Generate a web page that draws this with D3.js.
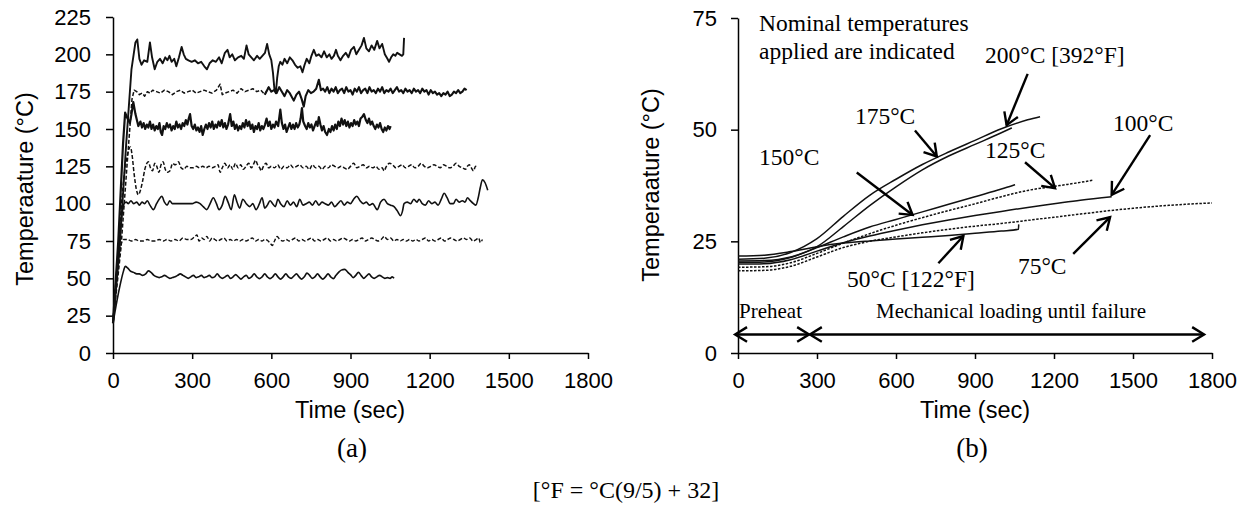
<!DOCTYPE html>
<html lang="en">
<head>
<meta charset="UTF-8">
<title>Temperature histories</title>
<style>
  body { margin: 0; background: #fff; }
  svg { display: block; }
  .tick text { font-family: "Liberation Sans", Arial, sans-serif; font-size: 22px; fill: #000; }
  .axis path, .axis line { stroke: #000; stroke-width: 1.5px; }
</style>
</head>
<body>
<div id="chart"></div>
<script src="https://d3js.org/d3.v7.min.js"></script>
<script>
const width = 1251, height = 509;

const timeTicks = [0, 300, 600, 900, 1200, 1500, 1800];
const furnaceTicks = [0, 25, 50, 75, 100, 125, 150, 175, 200, 225];
const specimenTicks = [0, 25, 50, 75];

// (a) measured temperature histories, [time s, temp C]
const furnace200 = [[0,20],[25,70],[50,140],[70,190],[85,208],[92,210],[100,197],[108,193],[118,196],[130,195],[140,208],[148,198],[158,190],[168,195],[178,197],[188,194],[198,198],[206,196],[214,199],[222,195],[232,197],[240,192],[250,198],[260,205],[268,200],[276,197],[286,196],[298,195],[310,196],[322,194],[334,195],[346,192],[356,190],[366,194],[378,196],[390,195],[402,198],[412,194],[424,201],[434,203],[442,198],[452,200],[462,196],[474,198],[486,199],[496,197],[506,206],[514,200],[524,198],[534,196],[546,199],[556,197],[566,199],[576,201],[584,207],[592,200],[600,196],[606,188],[612,176],[617,174],[622,184],[628,192],[634,195],[642,193],[650,197],[660,194],[670,198],[680,196],[690,193],[700,191],[710,192],[718,188],[726,193],[734,197],[744,194],[752,199],[761,203],[770,199],[780,200],[790,198],[800,202],[810,198],[820,200],[828,197],[837,199],[845,203],[852,199],[862,196],[872,199],[882,201],[892,198],[902,203],[913,205],[922,200],[932,203],[942,206],[951,211],[960,204],[970,202],[980,206],[990,203],[1001,209],[1010,204],[1020,207],[1030,200],[1040,197],[1046,195],[1054,198],[1062,200],[1070,199],[1077,201],[1086,200],[1095,199],[1100,200],[1103,211]];
const furnace175 = [[0,20],[30,70],[55,130],[72,170],[80,176],[90,175],[100,173],[110,174],[120,172],[130,175],[140,174],[150,176],[165,175],[180,174],[195,176],[210,175],[225,173],[240,175],[255,176],[270,174],[285,175],[300,176],[315,174],[330,175],[345,176],[360,175],[375,174],[392,176],[406,180],[414,173],[424,174],[440,175],[455,176],[470,174],[485,177],[500,175],[515,176],[530,177],[545,175],[560,176],[575,173],[590,178],[600,175],[610,176],[620,174],[630,178],[640,175],[650,172],[660,176],[670,174],[685,169],[695,173],[705,175],[715,170],[723,165],[730,172],[740,176],[750,174],[760,175],[770,177],[780,183],[788,176],[796,177],[804,175],[812,178],[820,174],[828,177],[836,175],[844,178],[852,174],[860,176],[868,177],[876,174],[884,178],[892,175],[900,176],[908,173],[916,177],[924,175],[932,178],[940,174],[948,176],[956,177],[964,174],[972,178],[980,175],[988,176],[996,174],[1004,177],[1012,175],[1020,178],[1028,174],[1036,176],[1044,175],[1052,177],[1060,174],[1068,176],[1076,178],[1084,175],[1092,176],[1100,174],[1108,177],[1116,175],[1124,176],[1132,174],[1140,177],[1148,175],[1156,176],[1164,174],[1172,177],[1180,175],[1188,176],[1196,173],[1204,176],[1212,174],[1220,175],[1228,173],[1236,174],[1244,172],[1252,174],[1260,173],[1268,175],[1276,172],[1284,173],[1292,175],[1300,174],[1308,176],[1316,174],[1324,175],[1332,177],[1340,176]];
const furnace150 = [[0,20],[20,75],[38,140],[46,161],[55,157],[64,154],[70,160],[77,168],[85,160],[96,152],[104,155],[110,151],[116,154],[122,150],[128,153],[134,151],[140,155],[146,150],[152,153],[158,149],[164,152],[170,150],[176,154],[181,148],[186,146],[192,152],[198,150],[204,154],[210,151],[216,153],[222,149],[228,152],[234,150],[240,155],[246,151],[252,153],[258,150],[264,154],[270,152],[276,156],[282,153],[287,157],[292,160],[298,152],[304,150],[310,153],[316,149],[322,151],[328,148],[334,152],[340,146],[346,150],[352,153],[358,150],[364,154],[370,151],[376,155],[382,150],[388,153],[394,151],[400,155],[406,152],[412,156],[418,151],[424,154],[430,150],[436,153],[444,160],[450,152],[456,155],[462,150],[468,153],[474,149],[480,152],[486,150],[492,154],[498,151],[504,156],[510,152],[516,155],[522,150],[528,153],[534,148],[540,152],[546,150],[552,154],[558,149],[564,152],[570,150],[576,153],[582,157],[588,152],[594,155],[600,150],[606,153],[612,151],[618,155],[626,152],[634,163],[640,154],[646,150],[652,153],[658,148],[664,151],[670,154],[676,150],[682,153],[688,150],[694,154],[700,151],[706,153],[711,157],[716,164],[721,155],[728,152],[734,150],[740,154],[746,151],[752,153],[758,149],[764,152],[770,155],[775,152],[780,158],[786,153],[792,149],[798,152],[804,148],[811,146],[818,150],[824,148],[830,152],[836,149],[842,153],[848,150],[854,155],[860,152],[866,157],[872,153],[878,156],[884,152],[890,155],[896,151],[902,154],[908,152],[914,156],[920,153],[926,155],[932,152],[938,157],[944,158],[951,160],[958,156],[964,154],[970,157],[976,153],[982,155],[988,152],[994,150],[1000,153],[1006,151],[1012,154],[1018,150],[1024,148],[1030,151],[1036,149],[1042,152],[1048,150],[1052,152]];
const furnace125 = [[0,20],[20,70],[40,115],[55,133],[66,138],[72,133],[80,120],[88,110],[96,106],[104,109],[112,115],[122,124],[134,128],[142,124],[150,122],[158,127],[166,125],[174,121],[182,126],[190,128],[198,123],[206,121],[216,122],[226,127],[236,126],[248,128],[258,124],[268,123],[280,125],[292,124],[304,124],[316,125],[328,124],[340,125],[352,124],[364,125],[376,124],[388,125],[398,126],[406,121],[414,124],[424,127],[434,124],[444,126],[454,123],[464,127],[474,124],[484,126],[494,123],[504,125],[514,127],[524,124],[534,127],[540,129],[548,126],[556,124],[562,122],[570,125],[580,127],[590,124],[600,125],[612,124],[624,126],[636,123],[648,125],[660,124],[672,126],[684,124],[696,125],[708,126],[720,124],[732,125],[744,123],[756,126],[768,124],[780,125],[792,123],[804,125],[816,124],[828,126],[840,125],[852,124],[864,125],[876,124],[888,123],[900,125],[912,127],[924,124],[936,125],[948,126],[960,124],[972,125],[984,124],[996,125],[1008,123],[1020,124],[1027,122],[1036,125],[1048,127],[1060,126],[1072,124],[1084,125],[1096,126],[1108,124],[1120,125],[1132,126],[1144,124],[1156,125],[1168,127],[1180,125],[1192,124],[1204,125],[1216,126],[1228,125],[1240,124],[1252,126],[1264,125],[1276,124],[1288,125],[1300,127],[1312,125],[1324,124],[1336,123],[1343,125],[1350,126],[1358,124],[1366,122],[1374,125],[1380,124]];
const furnace100 = [[0,20],[18,60],[32,90],[42,100],[50,101],[58,100],[68,102],[78,100],[90,101],[100,99],[110,101],[120,100],[130,102],[140,99],[153,96],[165,100],[175,103],[185,105],[195,101],[205,99],[215,102],[225,100],[240,100],[260,100],[280,100],[300,100],[315,101],[330,100],[342,98],[355,96],[368,100],[380,104],[392,100],[402,96],[414,99],[425,105],[436,101],[448,96],[460,106],[470,101],[480,97],[492,103],[505,100],[518,98],[530,100],[542,96],[555,100],[565,104],[575,97],[585,99],[595,102],[605,100],[615,98],[625,103],[635,100],[648,98],[660,102],[672,99],[684,101],[696,98],[708,103],[720,99],[732,100],[744,101],[756,99],[768,102],[780,99],[792,101],[804,100],[816,99],[828,101],[840,98],[852,100],[864,102],[876,99],[888,101],[900,100],[912,103],[924,105],[936,102],[948,100],[960,101],[972,99],[984,100],[996,97],[1001,96],[1014,101],[1027,103],[1040,100],[1052,99],[1065,98],[1078,95],[1090,92],[1097,95],[1103,100],[1115,101],[1128,100],[1140,103],[1152,101],[1160,103],[1172,100],[1184,99],[1196,102],[1208,100],[1220,101],[1232,99],[1244,103],[1255,107],[1266,104],[1278,100],[1290,100],[1300,103],[1312,101],[1324,102],[1334,101],[1343,104],[1354,102],[1366,100],[1375,99],[1384,104],[1392,111],[1400,116],[1410,114],[1420,109]];
const furnace75 = [[0,20],[15,50],[30,72],[40,76],[55,76],[70,75],[85,76],[100,75],[115,75],[130,76],[145,75],[160,75],[175,76],[190,75],[205,76],[220,75],[235,76],[250,75],[265,77],[280,76],[295,76],[310,78],[318,79],[326,75],[336,77],[346,76],[356,78],[366,75],[376,77],[386,76],[396,75],[408,76],[420,77],[432,75],[444,76],[456,75],[468,76],[480,75],[492,76],[504,75],[516,76],[528,77],[540,75],[552,76],[564,75],[576,76],[588,75],[598,73],[604,72],[612,75],[622,78],[632,76],[644,75],[656,76],[668,75],[680,76],[692,77],[704,75],[716,76],[728,75],[740,76],[752,77],[764,75],[776,76],[788,75],[800,76],[812,77],[824,75],[836,76],[848,75],[860,76],[872,77],[884,76],[896,75],[908,76],[920,75],[932,76],[944,77],[956,75],[968,76],[980,77],[992,76],[1004,75],[1016,76],[1028,78],[1040,76],[1052,77],[1064,75],[1076,76],[1088,75],[1100,76],[1112,75],[1124,76],[1136,75],[1148,76],[1160,75],[1172,76],[1184,77],[1196,75],[1208,76],[1220,75],[1232,76],[1244,77],[1256,75],[1268,76],[1280,77],[1292,76],[1304,75],[1316,76],[1328,77],[1340,76],[1352,77],[1364,75],[1376,76],[1386,77],[1392,74],[1400,76]];
const furnace50 = [[0,20],[15,35],[30,48],[40,55],[46,58],[55,57],[65,55],[78,54],[90,53],[100,53],[112,52],[124,53],[134,55],[144,54],[155,52],[165,51],[175,50.5],[185,51],[195,52],[205,51],[215,50],[225,50.5],[235,51],[245,52],[255,53],[265,52],[275,51],[285,50],[295,51],[305,52],[315,50.5],[325,51],[335,52],[345,50.5],[355,51],[365,52],[375,50.5],[385,51],[395,53],[405,51],[415,50],[425,51],[435,52],[445,50],[455,51],[465,52.5],[475,51],[485,49.5],[495,51],[505,52],[515,50],[525,51],[535,53],[545,51],[555,49.8],[565,51],[575,53],[585,51],[595,49.8],[605,51],[615,53],[625,51],[635,49.5],[645,51],[655,53],[665,51],[675,50],[685,51.5],[695,53],[705,51],[715,49.5],[725,51],[735,53.5],[745,52],[755,50],[765,51],[775,53],[785,51],[795,49.5],[805,51],[815,53],[825,51],[835,49.8],[845,52],[855,54],[865,55.5],[878,56],[890,54],[900,52.5],[910,50.5],[920,52],[930,54],[940,52],[950,50],[960,51.5],[970,53],[980,51],[990,50],[1000,51],[1010,52],[1020,51],[1030,50],[1040,50.5],[1050,50],[1058,51],[1065,50]];

// (b) specimen temperature histories, [time s, temp C]
const specimen200 = [[0,21.0],[100,21.2],[200,22.5],[300,25.6],[400,30.6],[500,35.3],[600,38.9],[700,42.2],[800,45.0],[900,47.6],[1000,50.2],[1100,52.2],[1147,52.9]];
const specimen175 = [[0,20.6],[100,20.7],[200,21.5],[300,23.8],[400,28.3],[500,33.0],[600,37.2],[700,41.0],[800,44.1],[900,46.7],[1000,49.3],[1040,50.4]];
const specimen150 = [[0,20.3],[100,20.4],[200,21.4],[300,23.6],[400,26.0],[500,28.2],[600,29.9],[700,31.6],[800,33.3],[900,35.0],[1000,36.7],[1052,37.7]];
const specimen125 = [[0,19.2],[100,19.3],[200,20.2],[300,22.3],[400,24.6],[500,26.7],[600,28.6],[700,30.3],[800,31.9],[900,33.4],[1000,35.0],[1100,36.4],[1200,37.3],[1300,38.2],[1350,38.7]];
const specimen100 = [[0,19.9],[100,20.0],[200,20.9],[300,22.8],[400,24.7],[500,26.2],[600,27.5],[700,28.7],[800,29.8],[900,30.8],[1000,31.7],[1100,32.6],[1200,33.4],[1300,34.2],[1419,35.0]];
const specimen75 = [[0,18.4],[100,18.5],[200,19.4],[300,21.5],[400,23.6],[500,25.0],[600,26.0],[700,26.9],[800,27.7],[900,28.4],[1000,29.0],[1100,29.7],[1200,30.4],[1300,31.1],[1400,31.8],[1500,32.4],[1600,32.9],[1700,33.3],[1800,33.6]];
const specimen50 = [[0,21.7],[100,21.9],[200,22.7],[300,23.8],[400,24.6],[500,25.1],[600,25.5],[700,25.9],[800,26.3],[900,26.8],[1000,27.3],[1065,27.7],[1066,28.8]];

// label text, anchor [t, T] and arrow [from t, from T, to t, to T] in data units of (b)
const labelNames = ["200°C [392°F]", "175°C", "150°C", "125°C", "100°C", "75°C", "50°C [122°F]"];
const labelAnchors = [[938, 64.9], [444, 51.3], [80, 42.1], [938, 43.7], [1424, 49.7], [1063, 17.7], [414, 14.8]];
const labelArrows = [[1100, 62.5, 1020, 51.0], [672, 49.8, 755, 44.0], [451, 40.4, 663, 30.9], [1090, 42.7, 1204, 36.9], [1565, 48.8, 1419, 35.4], [1273, 22.2, 1413, 30.4], [761, 20.1, 856, 26.2]];
const phaseNames = ["Preheat", "Mechanical loading until failure"];
const phaseSpans = [[-11, 270], [273, 1770]];
const phaseTextAt = [4, 524];

const svg = d3.select("#chart").append("svg")
  .attr("width", width)
  .attr("height", height)
  .attr("viewBox", [0, 0, width, height]);

const xA = d3.scaleLinear().domain([0, 1800]).range([113, 588]);
const yA = d3.scaleLinear().domain([0, 225]).range([353, 17]);
const xB = d3.scaleLinear().domain([0, 1800]).range([738, 1212]);
const yB = d3.scaleLinear().domain([0, 75]).range([353, 18]);

function axes(x, y, yTicks, labelPad) {
  svg.append("g")
    .attr("class", "axis")
    .attr("transform", `translate(0,${y(0)})`)
    .call(d3.axisBottom(x).tickValues(timeTicks).tickSize(6).tickSizeOuter(0).tickPadding(13).tickFormat(d3.format("d")));
  svg.append("g")
    .attr("class", "axis")
    .attr("transform", `translate(${x(0)},0)`)
    .call(d3.axisLeft(y).tickValues(yTicks).tickSize(7).tickSizeOuter(0).tickPadding(labelPad).tickFormat(d3.format("d")));
}
axes(xA, yA, furnaceTicks, 15);
axes(xB, yB, specimenTicks, 14);

// (a) lines: smooth ones, spiky ones
const lineA = d3.line().x(d => xA(d[0])).y(d => yA(d[1]));
const smoothA = d3.line().x(d => xA(d[0])).y(d => yA(d[1])).curve(d3.curveMonotoneX);
const seriesA = [
  [furnace50, null, 1.6, smoothA], [furnace75, "4,2", 1.4, smoothA], [furnace100, null, 1.6, smoothA],
  [furnace125, "4,2", 1.5, smoothA], [furnace150, null, 2.2, lineA],
  [furnace175.filter(d => d[0] <= 590), "4,2", 1.5, lineA],
  [furnace175.filter(d => d[0] >= 575), null, 2.1, lineA],
  [furnace200, null, 1.9, lineA]
];
svg.append("g")
  .selectAll("path")
  .data(seriesA)
  .join("path")
  .attr("fill", "none")
  .attr("stroke", "#111")
  .attr("stroke-linejoin", "round")
  .attr("stroke-width", d => d[2])
  .attr("stroke-dasharray", d => d[1])
  .attr("d", d => d[3](d[0]));

// (b) lines
const lineB = d3.line().x(d => xB(d[0])).y(d => yB(d[1])).curve(d3.curveMonotoneX);
const seriesB = [
  [specimen50, null], [specimen75, "2.5,1.5"], [specimen100, null], [specimen125, "2.5,1.5"],
  [specimen150, null], [specimen175, null], [specimen200, null]
];
svg.append("g")
  .selectAll("path")
  .data(seriesB)
  .join("path")
  .attr("fill", "none")
  .attr("stroke", "#111")
  .attr("stroke-width", 1.5)
  .attr("stroke-dasharray", d => d[1])
  .attr("d", d => lineB(d[0]));

// arrows with open chevron heads
function head(g, x1, y1, x2, y2) {
  const a = Math.atan2(y2 - y1, x2 - x1), len = 14, spread = 0.55;
  g.append("path")
    .attr("d", `M${x2 - len * Math.cos(a - spread)},${y2 - len * Math.sin(a - spread)}L${x2},${y2}L${x2 - len * Math.cos(a + spread)},${y2 - len * Math.sin(a + spread)}`);
}
const arrows = svg.append("g")
  .attr("fill", "none")
  .attr("stroke", "#000")
  .attr("stroke-width", 2.4);
labelArrows.forEach(a => {
  const p = [xB(a[0]), yB(a[1]), xB(a[2]), yB(a[3])];
  arrows.append("line").attr("x1", p[0]).attr("y1", p[1]).attr("x2", p[2]).attr("y2", p[3]);
  head(arrows, ...p);
});
const yPhase = yB(4.15);
phaseSpans.forEach(s => {
  arrows.append("line").attr("x1", xB(s[0])).attr("y1", yPhase).attr("x2", xB(s[1])).attr("y2", yPhase);
  head(arrows, xB(s[1]) - 20, yPhase, xB(s[1]), yPhase);
  head(arrows, xB(s[0]) + 20, yPhase, xB(s[0]), yPhase);
});

// serif annotations
const serif = svg.append("g")
  .attr("font-family", "'Liberation Serif', 'Times New Roman', serif")
  .attr("fill", "#000");
serif.selectAll(".lbl")
  .data(labelNames)
  .join("text")
  .attr("class", "lbl")
  .attr("font-size", 23.5)
  .attr("x", (d, i) => xB(labelAnchors[i][0]))
  .attr("y", (d, i) => yB(labelAnchors[i][1]))
  .text(d => d);
serif.append("text")
  .attr("font-size", 23.5)
  .attr("x", xB(80))
  .selectAll("tspan")
  .data(["Nominal temperatures", "applied are indicated"])
  .join("tspan")
  .attr("x", xB(80))
  .attr("y", (d, i) => yB(i ? 65.8 : 72.1))
  .text(d => d);
serif.selectAll(".phase")
  .data(phaseNames)
  .join("text")
  .attr("class", "phase")
  .attr("font-size", 21)
  .attr("x", (d, i) => xB(phaseTextAt[i]))
  .attr("y", yB(7.8))
  .text(d => d);
serif.selectAll(".cap")
  .data([["(a)", 352, 457, 27], ["(b)", 972, 457, 27], ["[°F = °C(9/5) + 32]", 626, 498, 24]])
  .join("text")
  .attr("class", "cap")
  .attr("font-size", d => d[3])
  .attr("text-anchor", "middle")
  .attr("x", d => d[1])
  .attr("y", d => d[2])
  .text(d => d[0]);

// axis titles
const sans = svg.append("g")
  .attr("font-family", "'Liberation Sans', Arial, sans-serif")
  .attr("font-size", 23.5)
  .attr("text-anchor", "middle")
  .attr("fill", "#000");
sans.append("text").attr("x", 350).attr("y", 418).text("Time (sec)");
sans.append("text").attr("x", 975).attr("y", 418).text("Time (sec)");
sans.append("text").attr("transform", "translate(33,189) rotate(-90)").text("Temperaature (°C)");
sans.append("text").attr("transform", "translate(659,185) rotate(-90)").text("Temperaature (°C)");
</script>
</body>
</html>
